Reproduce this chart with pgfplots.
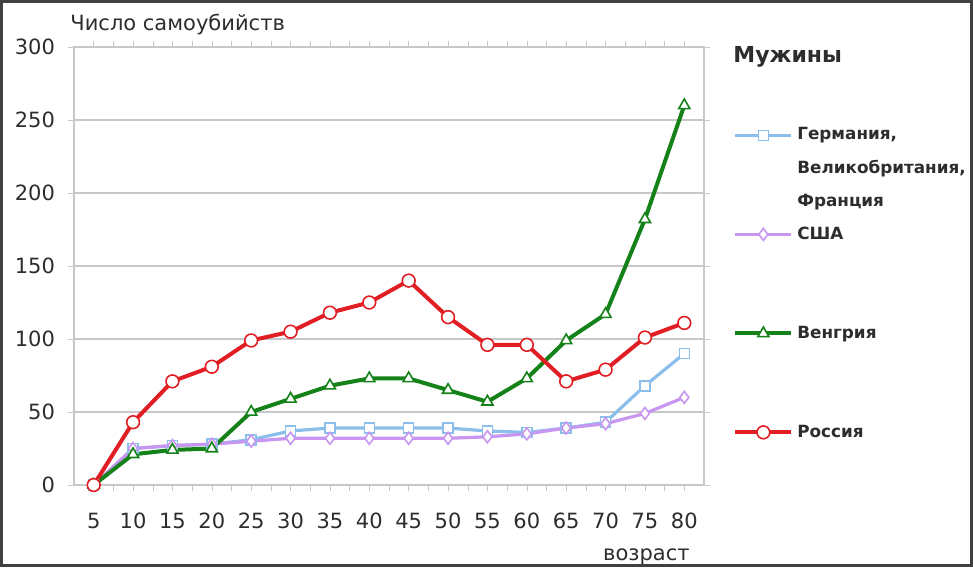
\documentclass[border=0pt]{standalone}
\usepackage{fontspec}
\setmainfont{DejaVu Sans}
\usepackage{pgfplots}
\pgfplotsset{compat=1.18}
\definecolor{framec}{RGB}{64,64,64}
\definecolor{gbr}{RGB}{140,190,235}
\definecolor{usa}{RGB}{200,150,240}
\definecolor{hun}{RGB}{20,130,25}
\definecolor{rus}{RGB}{225,30,35}
\definecolor{gridc}{RGB}{200,200,200}
\definecolor{txt}{RGB}{45,45,45}

\begin{document}
\begin{tikzpicture}
\useasboundingbox (0,0) rectangle (486.5pt,283.5pt);
\begin{axis}[
    at={(37pt,41pt)}, anchor=south west,
    scale only axis, width=315pt, height=219pt,
    xmin=2.5, xmax=82.5, ymin=0, ymax=300,
    xtick={5,10,...,80}, minor x tick num=1,
    ytick={0,50,...,300},
    tick align=outside, major tick length=3pt, minor tick length=3pt,
    tick style={gridc},
    axis line style={gridc, line width=0.8pt},
    ymajorgrids, grid style={gridc, line width=0.8pt},
    font=\fontsize{10.5}{12}\selectfont,
    tick label style={text=txt},
    /pgf/number format/assume math mode=true,
    xticklabel style={yshift=-7.5pt},
    yticklabel style={xshift=-3pt},
    clip=false,
    xlabel={возраст},
    xlabel style={at={(axis description cs:1,0)}, anchor=north east, inner sep=0pt, yshift=-31.5pt, xshift=-7pt, text=txt},
    ylabel={Число самоубийств},
    ylabel style={at={(axis description cs:0,1)}, rotate=-90, anchor=base west, inner sep=0pt, yshift=8pt, xshift=-2pt, text=txt},
    legend style={at={(1.046,0.8368)}, anchor=north west, draw=none, fill=none,
        inner sep=0pt, row sep=0pt, text=txt,
        font=\bfseries\fontsize{8.4}{10}\selectfont,
        nodes={minimum height=16.5pt, inner ysep=0pt, inner xsep=2pt}},
    legend cell align=left,
    legend image code/.code={\draw[mark repeat=2,mark phase=2,#1] plot coordinates {(0pt,0pt)(14pt,0pt)(28pt,0pt)};},
  ]

  % Германия, Великобритания, Франция
  \addplot[gbr, line width=1.6pt, mark=square*, mark size=2.5pt, mark options={fill=white, line width=0.8pt}] coordinates {
      (5,0) (10,25) (15,27) (20,28) (25,31) (30,37) (35,39) (40,39)
      (45,39) (50,39) (55,37) (60,36) (65,39) (70,43) (75,68) (80,90)
    };
  \addlegendentry{Германия,}
  \addlegendimage{empty legend}\addlegendentry{Великобритания,}
  \addlegendimage{empty legend}\addlegendentry{Франция}

  % США
  \addplot[usa, line width=1.6pt, mark=diamond*, mark size=3pt, mark options={fill=white, line width=0.8pt}] coordinates {
      (5,0) (10,25) (15,27) (20,28) (25,30) (30,32) (35,32) (40,32)
      (45,32) (50,32) (55,33) (60,35) (65,39) (70,42) (75,49) (80,60)
    };
  \addlegendentry{США}
  \addlegendimage{empty legend}\addlegendentry{\mbox{}}
  \addlegendimage{empty legend}\addlegendentry{\mbox{}}

  % Венгрия
  \addplot[hun, line width=2pt, mark=triangle*, mark size=3.2pt, mark options={fill=white, line width=0.8pt}] coordinates {
      (5,0) (10,21) (15,24) (20,25) (25,50) (30,59) (35,68) (40,73)
      (45,73) (50,65) (55,57) (60,73) (65,99) (70,117) (75,182) (80,260)
    };
  \addlegendentry{Венгрия}
  \addlegendimage{empty legend}\addlegendentry{\mbox{}}
  \addlegendimage{empty legend}\addlegendentry{\mbox{}}

  % Россия
  \addplot[rus, line width=2pt, mark=*, mark size=3.2pt, mark options={fill=white, line width=0.8pt}] coordinates {
      (5,0) (10,43) (15,71) (20,81) (25,99) (30,105) (35,118) (40,125)
      (45,140) (50,115) (55,96) (60,96) (65,71) (70,79) (75,101) (80,111)
    };
  \addlegendentry{Россия}

\end{axis}
\node[anchor=west, inner sep=0pt, text=txt, font=\bfseries\fontsize{11}{13}\selectfont] at (366.5pt,255pt) {Мужины};
\draw[framec, line width=1.5pt] (0.75pt,0.75pt) rectangle (485.75pt,282.75pt);
\end{tikzpicture}
\end{document}
